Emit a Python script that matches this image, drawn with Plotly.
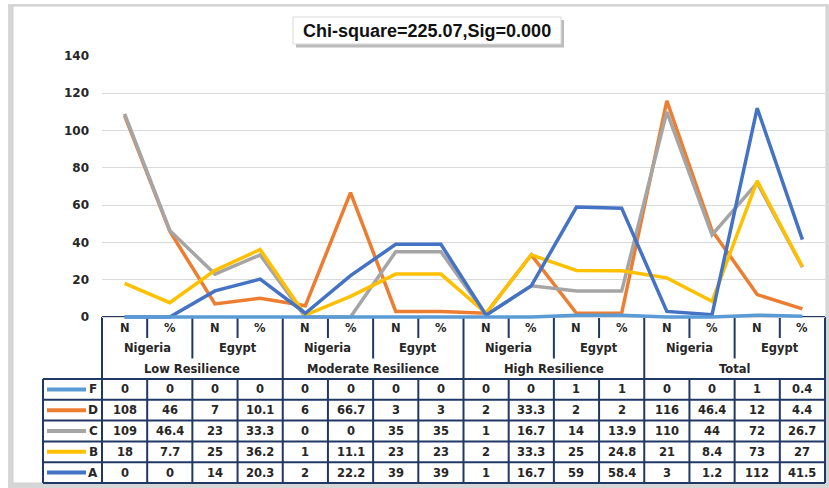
import plotly.graph_objects as go

W, H = 829, 488

# ---------------- data ----------------
groups = ["Low Resilience", "Moderate Resilience", "High Resilience", "Total"]
countries = ["Nigeria", "Egypt"]
subs = ["N", "%"]
categories = [(g, c, s) for g in groups for c in countries for s in subs]

series_names = ["F", "D", "C", "B", "A"]
F = [0, 0, 0, 0, 0, 0, 0, 0, 0, 0, 1, 1, 0, 0, 1, 0.4]
D = [108, 46, 7, 10.1, 6, 66.7, 3, 3, 2, 33.3, 2, 2, 116, 46.4, 12, 4.4]
C = [109, 46.4, 23, 33.3, 0, 0, 35, 35, 1, 16.7, 14, 13.9, 110, 44, 72, 26.7]
B = [18, 7.7, 25, 36.2, 1, 11.1, 23, 23, 2, 33.3, 25, 24.8, 21, 8.4, 73, 27]
A = [0, 0, 14, 20.3, 2, 22.2, 39, 39, 1, 16.7, 59, 58.4, 3, 1.2, 112, 41.5]
series_values = {"F": F, "D": D, "C": C, "B": B, "A": A}
colors = {"F": "#5B9BD5", "D": "#ED7D31", "C": "#A5A5A5", "B": "#FFC000", "A": "#4472C4"}

y_ticks = [0, 20, 40, 60, 80, 100, 120, 140]
title_text = "Chi-square=225.07,Sig=0.000"

# ---------------- geometry helpers (pixel -> paper) ----------------
def fx(px):
    return px / W

def fy(py):
    return 1 - py / H

PL, PR = 102, 825          # plot left/right pixel
PY0, PY140 = 317, 56       # pixel of y=0 and y=140
ymin = -2.0
ppu = (PY0 - PY140) / 140.0
dom_bottom = PY0 - ymin * ppu

n = len(categories)
colw = (PR - PL) / n
xs = list(range(n))

NAVY = "#1F3864"
TXT = "#262626"
FONT = "DejaVu Sans"

fig = go.Figure()

draw_order = ["D", "C", "B", "A", "F"]
for name in draw_order:
    fig.add_trace(go.Scatter(
        x=xs, y=series_values[name], mode="lines", name=name,
        line=dict(color=colors[name], width=3.5),
        showlegend=False, hoverinfo="skip",
    ))

shapes = []
annotations = []

# outer chart frame with shadow
shapes.append(dict(type="rect", xref="paper", yref="paper",
                   x0=fx(8), x1=fx(829), y0=fy(488), y1=fy(4),
                   line=dict(width=0), fillcolor="#D6D6D6", layer="below"))
shapes.append(dict(type="rect", xref="paper", yref="paper",
                   x0=fx(13), x1=fx(826), y0=fy(483), y1=fy(6),
                   line=dict(width=1, color="#CFCFCF"), fillcolor="white", layer="below"))

# title box with shadow
shapes.append(dict(type="rect", xref="paper", yref="paper",
                   x0=fx(296), x1=fx(564), y0=fy(47.5), y1=fy(20),
                   line=dict(width=0), fillcolor="#9E9E9E", opacity=0.7))
shapes.append(dict(type="rect", xref="paper", yref="paper",
                   x0=fx(293), x1=fx(561), y0=fy(44), y1=fy(17),
                   line=dict(width=1, color="#D9D9D9"), fillcolor="white"))
annotations.append(dict(xref="paper", yref="paper", x=fx(427), y=fy(30.5),
                        text=title_text, showarrow=False,
                        font=dict(family="Liberation Sans", size=18, color="#111111", weight="bold"),
                        xanchor="center", yanchor="middle"))

# ---------------- data table ----------------
def line(x0, y0, x1, y1, w=2, c=NAVY):
    shapes.append(dict(type="line", xref="paper", yref="paper",
                       x0=fx(x0), y0=fy(y0), x1=fx(x1), y1=fy(y1),
                       line=dict(color=c, width=w), layer="below"))

def text(px, py, s, size=11.5):
    annotations.append(dict(xref="paper", yref="paper", x=fx(px), y=fy(py), text=s,
                            showarrow=False, xanchor="center", yanchor="middle",
                            font=dict(family=FONT, size=size, color=TXT, weight="bold")))

HT = 317
HR = [HT, 338, 358.5, 379]
edges = [PL + i * colw for i in range(n + 1)]

# header outline
line(PL, HT, PR, HT)
line(PL, HT, PL, HR[3])
line(PR, HT, PR, HR[3])
for i in range(1, n):
    if i % 4 == 0:
        bottom = HR[3]
    elif i % 2 == 0:
        bottom = HR[2]
    else:
        bottom = HR[1]
    line(edges[i], HT + 1, edges[i], bottom)

# header labels
for i, (g, c, s) in enumerate(categories):
    text((edges[i] + edges[i + 1]) / 2, (HR[0] + HR[1]) / 2, s)
for k in range(n // 2):
    text((edges[2 * k] + edges[2 * k + 2]) / 2, (HR[1] + HR[2]) / 2, categories[2 * k][1])
for k in range(n // 4):
    text((edges[4 * k] + edges[4 * k + 4]) / 2, (HR[2] + HR[3]) / 2, categories[4 * k][0])

# data rows
LX = 43
row_h = (483 - 379) / len(series_names)
rows = [379 + r * row_h for r in range(len(series_names) + 1)]
for ry in rows:
    line(LX, ry, PR, ry)
line(LX, rows[0], LX, rows[-1])
for e in edges:
    line(e, rows[0], e, rows[-1])

def fmt(v):
    return f"{v:g}"

for r, name in enumerate(series_names):
    cy = (rows[r] + rows[r + 1]) / 2
    line(47, cy, 86, cy, w=4, c=colors[name])
    text(93, cy, name, size=12)
    for i, v in enumerate(series_values[name]):
        text((edges[i] + edges[i + 1]) / 2, cy, fmt(v), size=11.5)

fig.update_layout(
    width=W, height=H,
    margin=dict(l=0, r=0, t=0, b=0),
    paper_bgcolor="white", plot_bgcolor="rgba(0,0,0,0)",
    shapes=shapes, annotations=annotations,
    xaxis=dict(domain=[fx(PL), fx(PR)], range=[-0.5, n - 0.5],
               showticklabels=False, showgrid=False, zeroline=False,
               showline=False, ticks="", fixedrange=True),
    yaxis=dict(domain=[fy(dom_bottom), fy(PY140)], range=[ymin, 140],
               tickvals=y_ticks, ticktext=[str(t) for t in y_ticks],
               showgrid=True, gridcolor="#D9D9D9", gridwidth=1,
               zeroline=False, showline=False, ticks="",
               ticklabelstandoff=12, automargin=False,
               tickfont=dict(family=FONT, size=12, color=TXT, weight="bold")),
)

fig.write_html("out.html", config={"responsive": False, "displayModeBar": False},
               post_script="document.body.style.margin='0';document.body.style.padding='0';")
